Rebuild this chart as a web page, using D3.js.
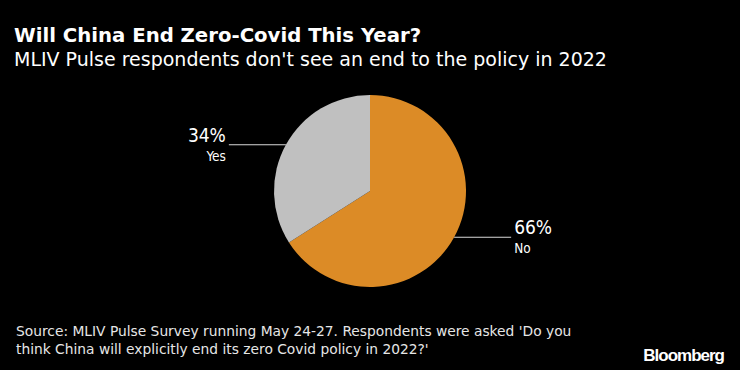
<!DOCTYPE html>
<html>
<head>
<meta charset="utf-8">
<script src="https://cdn.jsdelivr.net/npm/d3@7"></script>
<style>
  html, body { margin: 0; padding: 0; background: #000; }
  svg { display: block; font-family: "DejaVu Sans", sans-serif; }
  .lbl { font-family: "Liberation Sans Narrow", "DejaVu Sans Condensed", sans-serif; }
</style>
</head>
<body>
<svg id="chart"></svg>
<script>
const categories = ['No', 'Yes'];
const shares = [66, 34];
const sliceColors = ['#dc8b26', '#c0c0c0'];

const width = 740, height = 370;
const cx = 370, cy = 191, radius = 96;

const svg = d3.select('#chart')
    .attr('width', width)
    .attr('height', height);

svg.append('rect')
    .attr('width', width)
    .attr('height', height)
    .attr('fill', '#000');

// Titles
svg.append('text')
    .attr('x', 14).attr('y', 42)
    .attr('fill', '#fff')
    .attr('font-size', '19.7px')
    .attr('font-weight', 'bold')
    .text('Will China End Zero-Covid This Year?');

svg.append('text')
    .attr('x', 14).attr('y', 66)
    .attr('fill', '#fff')
    .attr('font-size', '19px')
    .text("MLIV Pulse respondents don't see an end to the policy in 2022");

// Pie
const data = categories.map((c, i) => ({ name: c, value: shares[i], color: sliceColors[i] }));
const pie = d3.pie().sort(null).value(d => d.value);
const arc = d3.arc().innerRadius(0).outerRadius(radius);
const arcs = pie(data);

const g = svg.append('g').attr('transform', `translate(${cx},${cy})`);

g.selectAll('path')
    .data(arcs)
    .enter()
    .append('path')
    .attr('d', arc)
    .attr('fill', d => d.data.color);

// Labels with leader lines from the slice mid-angle at the rim
const lineLen = 57;
arcs.forEach(a => {
    const mid = (a.startAngle + a.endAngle) / 2;
    const x0 = Math.sin(mid) * radius;
    const y0 = -Math.cos(mid) * radius;
    const right = x0 > 0;
    const x1 = right ? x0 + lineLen : x0 - lineLen;

    g.append('line')
        .attr('x1', x0).attr('y1', y0)
        .attr('x2', x1).attr('y2', y0)
        .attr('stroke', '#d9d9d9')
        .attr('stroke-width', 1.2);

    const tx = right ? x1 + 3 : x1 - 3;
    const anchor = right ? 'start' : 'end';

    g.append('text')
        .attr('class', 'lbl')
        .attr('x', tx).attr('y', y0 - 3)
        .attr('text-anchor', anchor)
        .attr('fill', '#fff')
        .attr('font-size', '19px')
        .text(a.data.value + '%');

    g.append('text')
        .attr('class', 'lbl')
        .attr('x', tx).attr('y', y0 + 16)
        .attr('text-anchor', anchor)
        .attr('fill', '#fff')
        .attr('font-size', '13.5px')
        .text(a.data.name);
});

// Footer
const source = [
    "Source: MLIV Pulse Survey running May 24-27. Respondents were asked 'Do you",
    "think China will explicitly end its zero Covid policy in 2022?'"
];
svg.append('text')
    .attr('fill', '#e6e6e6')
    .attr('font-size', '13.8px')
    .selectAll('tspan')
    .data(source)
    .enter()
    .append('tspan')
    .attr('x', 16)
    .attr('y', (d, i) => 336 + i * 18)
    .text(d => d);

svg.append('text')
    .attr('x', 724).attr('y', 361)
    .attr('text-anchor', 'end')
    .attr('fill', '#fff')
    .attr('font-family', '"Liberation Sans", Arial, sans-serif')
    .attr('font-size', '17px')
    .attr('font-weight', 'bold')
    .attr('letter-spacing', '-1px')
    .text('Bloomberg');
</script>
</body>
</html>
